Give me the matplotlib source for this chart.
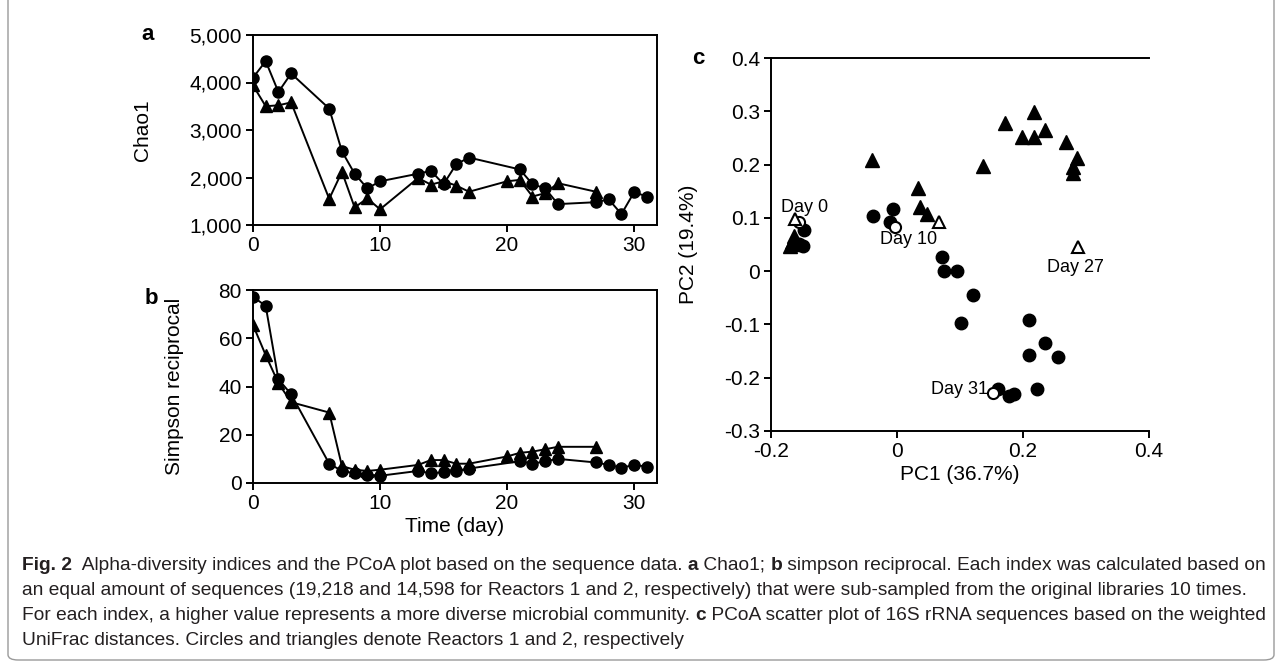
import numpy as np
import matplotlib.pyplot as plt
from matplotlib.patches import FancyBboxPatch
from matplotlib.ticker import FuncFormatter

# ============================================================
# data
# ============================================================
days_r1 = [0, 1, 2, 3, 6, 7, 8, 9, 10, 13, 14, 15, 16, 17, 21, 22, 23, 24, 27, 28, 29, 30, 31]
chao1_r1 = [4100, 4450, 3800, 4190, 3450, 2550, 2080, 1770, 1920, 2080, 2140, 1860, 2280, 2420,
            2170, 1860, 1770, 1440, 1480, 1540, 1230, 1690, 1600]
simpson_r1 = [77.2, 73.4, 43, 36.8, 8, 5, 4, 3.5, 3, 5, 4, 4.5, 5, 6,
              9, 8, 9, 10, 8.5, 7.5, 6.3, 7.5, 6.8]

days_r2 = [0, 1, 2, 3, 6, 7, 8, 9, 10, 13, 14, 15, 16, 17, 20, 21, 22, 23, 24, 27]
chao1_r2 = [3940, 3500, 3520, 3580, 1550, 2120, 1370, 1560, 1330, 1990, 1850, 1920, 1830, 1700,
            1920, 1950, 1600, 1670, 1880, 1700]
simpson_r2 = [65.5, 53, 41.4, 33.5, 29.2, 7, 5.5, 5, 5.5, 7.5, 9.5, 9.5, 8, 8,
              11, 12.5, 13, 14, 15, 15]

# PCoA, reactor 1 (circles) and reactor 2 (triangles)
pc1_r1 = [-0.155, -0.150, -0.148, -0.038, -0.006, -0.011, 0.072, 0.075, 0.095, 0.120, 0.102,
          0.210, 0.210, 0.235, 0.255, 0.222, 0.160, 0.178, 0.185]
pc2_r1 = [0.050, 0.048, 0.077, 0.104, 0.116, 0.093, 0.026, 0.000, 0.000, -0.045, -0.097,
          -0.092, -0.158, -0.135, -0.162, -0.222, -0.222, -0.234, -0.230]
pc1_r2 = [-0.170, -0.166, -0.163, -0.160, -0.040, 0.033, 0.037, 0.047, 0.136, 0.172, 0.217,
          0.198, 0.217, 0.235, 0.268, 0.285, 0.280, 0.280]
pc2_r2 = [0.048, 0.055, 0.066, 0.050, 0.209, 0.156, 0.120, 0.107, 0.197, 0.278, 0.299,
          0.252, 0.252, 0.265, 0.242, 0.213, 0.195, 0.185]

# marked days (open symbols)
open_r1_x = [-0.156, -0.003, 0.153]
open_r1_y = [0.093, 0.083, -0.228]
open_r2_x = [-0.162, 0.066, 0.287]
open_r2_y = [0.097, 0.093, 0.045]
day_labels = ["Day 0", "Day 10", "Day 27", "Day 31"]
day_label_xy = [(-0.147, 0.120), (0.018, 0.060), (0.284, 0.007), (0.145, -0.222)]
day_label_ha = ["center", "center", "center", "right"]

caption_lines = [
    [("Fig. 2", True), ("  Alpha-diversity indices and the PCoA plot based on the sequence data. ", False),
     ("a", True), (" Chao1; ", False), ("b", True),
     (" simpson reciprocal. Each index was calculated based on", False)],
    [("an equal amount of sequences (19,218 and 14,598 for Reactors 1 and 2, respectively) "
      "that were sub-sampled from the original libraries 10 times.", False)],
    [("For each index, a higher value represents a more diverse microbial community. ", False),
     ("c", True), (" PCoA scatter plot of 16S rRNA sequences based on the weighted", False)],
    [("UniFrac distances. Circles and triangles denote Reactors 1 and 2, respectively", False)],
]

# ============================================================
# figure
# ============================================================
plt.rcParams["font.family"] = ["Liberation Sans", "DejaVu Sans"]
cap_family = ["Liberation Sans", "DejaVu Sans"]

W, H = 1282, 666
fig = plt.figure(figsize=(W / 100, H / 100), dpi=100)

fs = 15
lw = 1.4
ms = 8.0


def style_axes(ax, full_box=True):
    for s in ax.spines.values():
        s.set_linewidth(1.4)
    if not full_box:
        ax.spines["right"].set_visible(False)
    ax.tick_params(direction="out", length=5, width=1.4, labelsize=fs, pad=3,
                   top=False, right=False)


def px_axes(left, top, right, bottom):
    return fig.add_axes([left / W, 1 - bottom / H, (right - left) / W, (bottom - top) / H])


# ---------------- panel a
ax_a = px_axes(253, 35, 657, 225)
ax_a.plot(days_r1, chao1_r1, "-o", color="black", lw=lw, ms=ms)
ax_a.plot(days_r2, chao1_r2, "-^", color="black", lw=lw, ms=ms + 1)
ax_a.set_xlim(0, 31.8)
ax_a.set_ylim(1000, 5000)
ax_a.set_xticks([0, 10, 20, 30])
ax_a.set_yticks([1000, 2000, 3000, 4000, 5000])
ax_a.yaxis.set_major_formatter(FuncFormatter(lambda v, p: f"{int(v):,}"))
ax_a.set_ylabel("Chao1", fontsize=fs)
ax_a.yaxis.set_label_coords((152 - 253) / 404, 0.5)
style_axes(ax_a)
fig.text(148 / W, 1 - 35 / H, "a", fontsize=fs + 1, fontweight="bold", ha="center", va="center")

# ---------------- panel b
ax_b = px_axes(253, 290, 657, 483)
ax_b.plot(days_r1, simpson_r1, "-o", color="black", lw=lw, ms=ms)
ax_b.plot(days_r2, simpson_r2, "-^", color="black", lw=lw, ms=ms + 1)
ax_b.set_xlim(0, 31.8)
ax_b.set_ylim(0, 80)
ax_b.set_xticks([0, 10, 20, 30])
ax_b.set_yticks([0, 20, 40, 60, 80])
ax_b.set_xlabel("Time (day)", fontsize=fs, labelpad=3)
ax_b.set_ylabel("Simpson reciprocal", fontsize=fs)
ax_b.yaxis.set_label_coords((184 - 253) / 404, 0.5)
style_axes(ax_b)
fig.text(151 / W, 1 - 298 / H, "b", fontsize=fs + 1, fontweight="bold", ha="center", va="center")

# ---------------- panel c
ax_c = px_axes(771, 58, 1149, 431)
ax_c.plot(pc1_r1, pc2_r1, "o", color="black", ms=ms + 1, ls="none")
ax_c.plot(pc1_r2, pc2_r2, "^", color="black", ms=ms + 2, ls="none")
ax_c.plot(open_r1_x, open_r1_y, "o", mfc="white", mec="black", mew=1.5, ms=ms, ls="none")
ax_c.plot(open_r2_x, open_r2_y, "^", mfc="white", mec="black", mew=1.5, ms=ms, ls="none")
for lab, (x, y), ha in zip(day_labels, day_label_xy, day_label_ha):
    ax_c.text(x, y, lab, fontsize=fs - 2, ha=ha, va="center")
ax_c.set_xlim(-0.2, 0.4)
ax_c.set_ylim(-0.3, 0.4)
ax_c.set_xticks([-0.2, 0, 0.2, 0.4])
ax_c.set_yticks([-0.3, -0.2, -0.1, 0, 0.1, 0.2, 0.3, 0.4])
ax_c.xaxis.set_major_formatter(FuncFormatter(lambda v, p: "0" if abs(v) < 1e-9 else f"{v:.1f}"))
ax_c.yaxis.set_major_formatter(FuncFormatter(lambda v, p: "0" if abs(v) < 1e-9 else f"{v:.1f}"))
ax_c.set_xlabel("PC1 (36.7%)", fontsize=fs, labelpad=3)
ax_c.set_ylabel("PC2 (19.4%)", fontsize=fs)
ax_c.yaxis.set_label_coords((698 - 771) / 378, 0.5)
style_axes(ax_c, full_box=False)
fig.text(698 / W, 1 - 58 / H, "c", fontsize=fs + 1, fontweight="bold", ha="center", va="center")

# ---------------- caption
renderer = fig.canvas.get_renderer()
cap_size = 11.0
# fit the first line to the caption width
probe = fig.text(0, 0, "".join(s for s, b in caption_lines[0]), fontsize=cap_size,
                 family=cap_family)
wpx = probe.get_window_extent(renderer).width
probe.remove()
cap_size = cap_size * 1238 / wpx

line_y = [570, 595, 620, 645]
for pieces, y in zip(caption_lines, line_y):
    x = 22
    for s, bold in pieces:
        t = fig.text(x / W, 1 - y / H, s, fontsize=cap_size, family=cap_family,
                     fontweight="bold" if bold else "normal",
                     va="baseline", ha="left", color="#231f20")
        x = t.get_window_extent(renderer).x1

# light frame around the figure
frame = FancyBboxPatch((8 / W, 1 - 660 / H), (1274 - 8) / W, 1.0, transform=fig.transFigure,
                       boxstyle="round,pad=0,rounding_size=0.008", fc="none",
                       ec="#9a9a9a", lw=1.0)
fig.patches.append(frame)

fig.savefig("out.png", dpi=100)
